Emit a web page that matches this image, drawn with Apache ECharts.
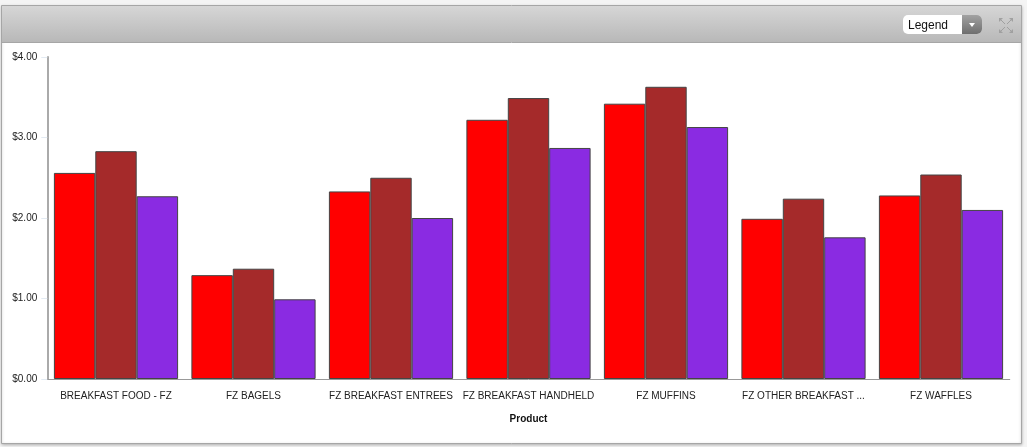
<!DOCTYPE html>
<html><head><meta charset="utf-8">
<style>html,body{margin:0;padding:0;background:#f4f4f4}#c{width:1027px;height:447px}</style>
<script src="https://cdn.jsdelivr.net/npm/echarts@6/dist/echarts.min.js"></script>
</head><body><div id="c"></div>
<script>
const categories = ['BREAKFAST FOOD - FZ','FZ BAGELS','FZ BREAKFAST ENTREES','FZ BREAKFAST HANDHELD','FZ MUFFINS','FZ OTHER BREAKFAST ...','FZ WAFFLES'];
const redValues = [2.56,1.29,2.33,3.22,3.42,1.99,2.28];
const brownValues = [2.83,1.37,2.50,3.49,3.63,2.24,2.54];
const purpleValues = [2.27,0.99,2.00,2.87,3.13,1.76,2.10];
const yTicks = {min:0,max:4,interval:1};
const font = '"Liberation Sans", Arial, sans-serif';
const chart = echarts.init(document.getElementById('c'),null,{renderer:'canvas'});
const barSeries = (name,data,color)=>({name,type:'bar',data,barWidth:41.4,barGap:0,
  itemStyle:{color,borderColor:'#444',borderWidth:1},animation:false});
chart.setOption({
  animation:false,
  backgroundColor:'#f4f4f4',
  grid:{left:47.25,right:17.25,top:57,bottom:68,containLabel:false},
  graphic:[
    {type:'rect',z:-10,shape:{x:1.5,y:5.5,width:1020,height:438},style:{fill:'#fff',stroke:'#a6a6a6',lineWidth:1,shadowBlur:3,shadowColor:'rgba(0,0,0,.25)',shadowOffsetY:1}},
    {type:'rect',z:-9,shape:{x:2,y:6,width:1019,height:36},style:{fill:new echarts.graphic.LinearGradient(0,0,0,1,[{offset:0,color:'#d6d6d6'},{offset:1,color:'#b8b8b8'}])}},
    {type:'line',z:-8,shape:{x1:2,y1:42.5,x2:1021,y2:42.5},style:{stroke:'#a6a6a6',lineWidth:1}},
    {type:'rect',z:10,shape:{x:903,y:15,width:79,height:19,r:5},style:{fill:'#fff'}},
    {type:'rect',z:11,shape:{x:962,y:15,width:20,height:19,r:[0,5,5,0]},style:{fill:new echarts.graphic.LinearGradient(0,0,0,1,[{offset:0,color:'#a2a2a2'},{offset:1,color:'#6e6e6e'}])}},
    {type:'polygon',z:12,shape:{points:[[969,23],[975,23],[972,27]]},style:{fill:'#fff'}},
    {type:'text',z:12,style:{x:908,y:20,text:'Legend',font:'12px '+font,fill:'#111'}},
    ...[[999,18,1,1],[1013,18,-1,1],[999,33,1,-1],[1013,33,-1,-1]].map(([x,y,a,b])=>({type:'polygon',z:12,
      shape:{points:[[x,y],[x+4*a,y],[x,y+4*b]]},style:{fill:'#a0a0a0'}})),
    ...[[1000,19,1,1],[1012,19,-1,1],[1000,32,1,-1],[1012,32,-1,-1]].map(([x,y,a,b])=>({type:'line',z:12,
      shape:{x1:x,y1:y,x2:x+5*a,y2:y+5*b},style:{stroke:'#a0a0a0',lineWidth:1}}))
  ],
  xAxis:{type:'category',data:categories,name:'Product',nameLocation:'middle',nameGap:35,
    nameTextStyle:{fontFamily:font,fontSize:10,fontWeight:'bold',color:'#111'},
    axisLine:{lineStyle:{color:'#999',width:1}},
    axisTick:{alignWithLabel:false,length:6,lineStyle:{color:'#e3ebf3'}},
    axisLabel:{fontFamily:font,fontSize:10,color:'#222',margin:12,interval:0},
    splitLine:{show:false}},
  yAxis:{type:'value',...yTicks,
    axisLine:{show:true,lineStyle:{color:'#aaa',width:2}},
    axisTick:{show:true,length:6,lineStyle:{color:'#e3ebf3'}},
    axisLabel:{fontFamily:font,fontSize:10,color:'#222',margin:10,formatter:v=>'$'+v.toFixed(2)},
    splitLine:{show:false}},
  series:[barSeries('Red',redValues,'#ff0000'),barSeries('Brown',brownValues,'#a52a2a'),barSeries('Purple',purpleValues,'#8a2be2')]
});
</script></body></html>
